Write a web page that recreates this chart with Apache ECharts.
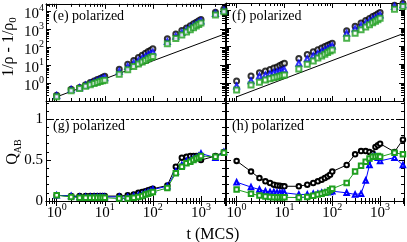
<!DOCTYPE html>
<html><head><meta charset="utf-8">
<script src="https://cdn.jsdelivr.net/npm/echarts@6/dist/echarts.min.js"></script>
<style>html,body{margin:0;padding:0;background:#fff}#c{width:407px;height:242px}</style>
</head><body><div id="c"></div>
<script>
// ---- data ----
const times = [1,2,3,4,5,6,7,8,9,10,20,30,40,50,60,70,80,90,100,200,300,400,500,600,700,800,900,1000,2000,3000];

// (e) 1/rho - 1/rho0, polarized (left)
const eBlack = [0.21,0.45,0.57,0.8,1.05,1.3,1.55,1.8,2.1,2.4, 5.8,11,18,26,35,45,56,67,80, 285,530,820,1150,1520,1950,2400,2900,3400, 8500,13000];
const eBlue  = [0.2,0.43,0.55,0.74,0.93,1.14,1.35,1.55,1.75,1.97, 4.5,8.3,13,18,24,30,37,44,52, 200,390,630,910,1230,1580,1970,2380,2800, 7200,11000];
const eGreen = [0.17,0.37,0.5,0.65,0.79,0.93,1.07,1.2,1.32,1.44, 3.1,5.5,8.3,11.3,14.5,18,22,26,30, 150,295,470,680,920,1180,1480,1790,2150, 6000,9000];

// (f) 1/rho - 1/rho0, polarized (right)
const fBlack = [1.26,2.4,3.6,4.5,5.5,6.5,7.5,9,10.5,12, 22,36,51,66,83,100,117,134,150, 750,1330,2000,2750,3550,4450,5350,6300,7400, 19000,24000];
const fBlue  = [0.67,1.3,2.4,2.7,3.2,3.7,4.1,4.5,4.8,5.2, 12,21,31,42,54,66,79,93,107, 535,960,1450,2000,2600,3250,3900,4650,5500, 16000,20000];
const fGreen = [0.4,0.76,1.07,1.45,1.7,1.9,2.1,2.3,2.5,2.7, 5.8,10.6,16,23,30,38,47,56,65, 285,540,850,1200,1600,2050,2500,3000,3600, 11200,16000];

// guide line (slope 1)
const guideT = [1, 3000];
const guideV = [0.17, 510];

// (g) Q_AB, polarized (left)
const gBlack = [0.07,0.06,0.06,0.06,0.06,0.06,0.06,0.06,0.06,0.06, 0.06,0.07,0.08,0.1,0.11,0.12,0.13,0.14,0.15, 0.19,0.42,0.53,0.54,0.55,0.55,0.55,0.55,0.5, 0.55,0.6];
const gBlue  = [0.07,0.06,0.05,0.05,0.05,0.05,0.05,0.05,0.05,0.05, 0.05,0.05,0.06,0.07,0.08,0.1,0.11,0.12,0.14, 0.18,0.36,0.44,0.49,0.5,0.52,0.53,0.55,0.58, 0.53,0.6];
const gGreen = [0.07,0.05,0.04,0.04,0.04,0.04,0.04,0.04,0.04,0.04, 0.03,0.03,0.04,0.05,0.06,0.08,0.09,0.1,0.11, 0.16,0.34,0.42,0.46,0.48,0.5,0.52,0.53,0.55, 0.54,0.59];

// (h) Q_AB, polarized (right)
const hBlack = [0.49,0.36,0.28,0.24,0.22,0.2,0.19,0.185,0.18,0.18, 0.18,0.2,0.22,0.24,0.26,0.28,0.3,0.32,0.36, 0.44,0.57,0.61,0.61,0.6,0.58,0.66,0.68,0.7, 0.6,0.75];
const hBlue  = [0.23,0.17,0.14,0.12,0.11,0.11,0.105,0.1,0.1,0.1, 0.08,0.08,0.09,0.09,0.1,0.1,0.11,0.11,0.12, 0.1,0.08,0.09,0.25,0.44,0.54,0.55,0.53,0.49, 0.53,0.44];
const hGreen = [0.14,0.09,0.066,0.055,0.05,0.045,0.045,0.045,0.045,0.045, 0.042,0.05,0.065,0.08,0.09,0.1,0.11,0.13,0.15, 0.22,0.36,0.43,0.48,0.52,0.54,0.54,0.55,0.54, 0.59,0.57];

const refLevel = 1;

// ticks
const xMinor = [0.7,0.8,0.9,2,3,4,5,6,7,8,9,20,30,40,50,60,70,80,90,200,300,400,500,600,700,800,900,2000,3000];
const yLogMinor = [0.2,0.3,0.4,0.5,0.6,0.7,0.8,0.9,2,3,4,5,6,7,8,9,20,30,40,50,60,70,80,90,200,300,400,500,600,700,800,900,2000,3000,4000,5000,6000,7000,8000,9000,20000];
const qMajor = [0, 0.5, 1];
const qMinor = [0.1,0.2,0.3,0.4,0.6,0.7,0.8,0.9,1.1,1.2];

const panelLabels = ['(e) polarized','(f) polarized','(g) polarized','(h) polarized'];

// ---- layout / style ----
const serif = 'Liberation Serif';
const BLACK = '#000000', BLUE = '#0000ff', GREEN = '#1f9f1f';
const xMin = 0.6, xMax = 3160, yLogMin = 0.1, yLogMax = 25000, qMin = 0, qMax = 1.21;
const grids = [
  {left:46, top:3, width:179, height:98},
  {left:226, top:3, width:178, height:98},
  {left:46, top:102, width:179, height:99},
  {left:226, top:102, width:178, height:99}
];
const supRich = {
  b:{fontFamily:serif,fontSize:15,lineHeight:15,padding:[7,0,0,0],color:'#000'},
  sup:{fontFamily:serif,fontSize:10,lineHeight:10,verticalAlign:'top',color:'#000'}
};
function logFmt(v){ return '{b|10}{sup|' + Math.round(Math.log10(v)) + '}'; }

const xAxes = [], yAxes = [];
const line = {show:true, lineStyle:{color:'#000', width:1}};
function tick(len, custom){ const t = {show:true, inside:true, length:len, lineStyle:{color:'#000', width:1}}; if (custom) t.customValues = custom; return t; }

function addX(gi, labels){
  const base = {type:'log', logBase:10, gridIndex:gi, min:xMin, max:xMax, splitLine:{show:false}};
  const idx = xAxes.length;
  xAxes.push(Object.assign({}, base, {position:'bottom', axisLine:line, axisTick:tick(5),
    axisLabel:{show:labels, margin:1, formatter:logFmt, rich:supRich, showMinLabel:false, showMaxLabel:false}}));
  xAxes.push(Object.assign({}, base, {position:'bottom', axisLine:{show:false}, axisTick:tick(3, xMinor), axisLabel:{show:false}}));
  xAxes.push(Object.assign({}, base, {position:'top', axisLine:line, axisTick:tick(5), axisLabel:{show:false}}));
  xAxes.push(Object.assign({}, base, {position:'top', axisLine:{show:false}, axisTick:tick(3, xMinor), axisLabel:{show:false}}));
  return idx;
}
function addYLog(gi, labels){
  const base = {type:'log', logBase:10, gridIndex:gi, min:yLogMin, max:yLogMax, splitLine:{show:false}};
  const idx = yAxes.length;
  yAxes.push(Object.assign({}, base, {position:'left', axisLine:line, axisTick:tick(5),
    axisLabel:{show:labels, margin:2, formatter:logFmt, rich:supRich, showMinLabel:false, showMaxLabel:false}}));
  yAxes.push(Object.assign({}, base, {position:'left', axisLine:{show:false}, axisTick:tick(3, yLogMinor), axisLabel:{show:false}}));
  yAxes.push(Object.assign({}, base, {position:'right', axisLine:line, axisTick:tick(5), axisLabel:{show:false}}));
  yAxes.push(Object.assign({}, base, {position:'right', axisLine:{show:false}, axisTick:tick(3, yLogMinor), axisLabel:{show:false}}));
  return idx;
}
function addYQ(gi, labels){
  const base = {type:'value', gridIndex:gi, min:qMin, max:qMax, splitLine:{show:false}};
  const idx = yAxes.length;
  yAxes.push(Object.assign({}, base, {position:'left', axisLine:line, axisTick:tick(5, qMajor),
    axisLabel:{show:labels, margin:3, customValues:qMajor, formatter:v => String(v), fontFamily:serif, fontSize:15, color:'#000'}}));
  yAxes.push(Object.assign({}, base, {position:'left', axisLine:{show:false}, axisTick:tick(3, qMinor), axisLabel:{show:false}}));
  yAxes.push(Object.assign({}, base, {position:'right', axisLine:line, axisTick:tick(5, qMajor), axisLabel:{show:false}}));
  yAxes.push(Object.assign({}, base, {position:'right', axisLine:{show:false}, axisTick:tick(3, qMinor), axisLabel:{show:false}}));
  return idx;
}

const ax = [
  [addX(0,false), addYLog(0,true)],
  [addX(1,false), addYLog(1,false)],
  [addX(2,true),  addYQ(2,true)],
  [addX(3,true),  addYQ(3,false)]
];

const pairs = vals => times.map((t,i) => [t, vals[i]]);
const series = [];
function scatter(p, vals, sym, color){
  series.push({type:'scatter', xAxisIndex:ax[p][0], yAxisIndex:ax[p][1], data:pairs(vals),
    symbol:sym, symbolSize:5, itemStyle:{color:color, borderColor:color, borderWidth:0.9}, z:3});
}
function guide(p){
  series.push({type:'line', xAxisIndex:ax[p][0], yAxisIndex:ax[p][1], data:guideT.map((t,i)=>[t,guideV[i]]),
    symbol:'none', lineStyle:{color:'#000', width:1}, z:2});
}
function qline(p, vals, sym, color, withRef){
  const s = {type:'line', xAxisIndex:ax[p][0], yAxisIndex:ax[p][1], data:pairs(vals),
    symbol:sym, symbolSize:4.5, showAllSymbol:true, lineStyle:{color:color, width:1},
    itemStyle:{color:color, borderColor:color, borderWidth:0.9}, z:3};
  if (withRef) s.markLine = {silent:true, symbol:'none', label:{show:false},
    lineStyle:{color:'#000', width:1, type:[3,2]}, data:[{yAxis:refLevel}]};
  series.push(s);
}
guide(0); scatter(0,eBlack,'emptyCircle',BLACK); scatter(0,eBlue,'emptyTriangle',BLUE); scatter(0,eGreen,'emptyRect',GREEN);
guide(1); scatter(1,fBlack,'emptyCircle',BLACK); scatter(1,fBlue,'emptyTriangle',BLUE); scatter(1,fGreen,'emptyRect',GREEN);
qline(2,gBlack,'emptyCircle',BLACK,true); qline(2,gBlue,'emptyTriangle',BLUE,false); qline(2,gGreen,'emptyRect',GREEN,false);
qline(3,hBlack,'emptyCircle',BLACK,true); qline(3,hBlue,'emptyTriangle',BLUE,false); qline(3,hGreen,'emptyRect',GREEN,false);

const labelPos = [[53,16.5],[232,16.5],[53,126],[232,126]];
const graphic = panelLabels.map((t,i) => ({type:'text', x:labelPos[i][0], y:labelPos[i][1], z:10,
  style:{text:t, fontFamily:serif, fontSize:14, fill:'#000', verticalAlign:'middle', align:'left'}}));
graphic.push({type:'text', x:9, y:47, rotation:Math.PI/2, z:10,
  style:{text:'{a|1/ρ - 1/ρ}{s|0}', align:'center', verticalAlign:'middle',
    rich:{a:{fontFamily:serif,fontSize:16,lineHeight:20,fill:'#000'}, s:{fontFamily:serif,fontSize:11,lineHeight:11,verticalAlign:'bottom',fill:'#000'}}}});
graphic.push({type:'text', x:13, y:152, rotation:Math.PI/2, z:10,
  style:{text:'{a|Q}{s|AB}', align:'center', verticalAlign:'middle',
    rich:{a:{fontFamily:serif,fontSize:16,lineHeight:20,fill:'#000'}, s:{fontFamily:serif,fontSize:10,lineHeight:10,verticalAlign:'bottom',fill:'#000'}}}});
graphic.push({type:'text', x:213, y:235, z:10,
  style:{text:'t (MCS)', fontFamily:serif, fontSize:16, fill:'#000', align:'center', verticalAlign:'middle'}});

const chart = echarts.init(document.getElementById('c'));
chart.setOption({animation:false, backgroundColor:'#fff', grid:grids, xAxis:xAxes, yAxis:yAxes, series:series, graphic:graphic});
</script></body></html>
